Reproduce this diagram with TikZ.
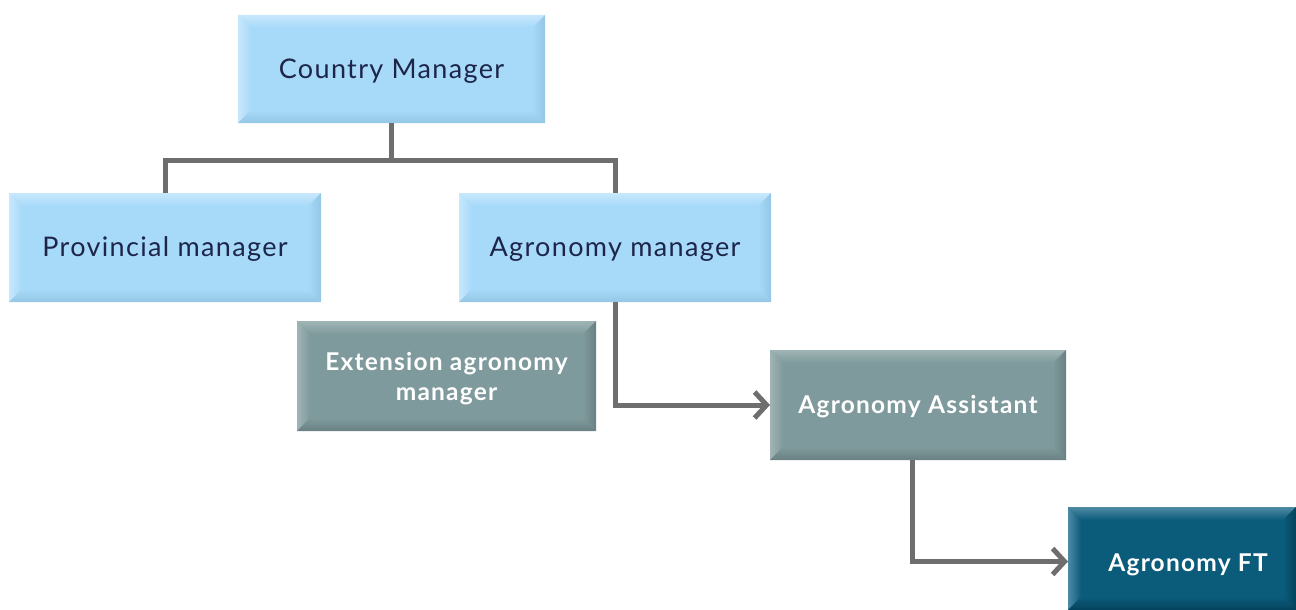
\documentclass[tikz,border=0pt]{standalone}
\usepackage{fontspec}
\setmainfont{Lato}
\newfontfamily\lato{Lato}[LetterSpace=5]
\usetikzlibrary{arrows.meta,calc}
\definecolor{blB}{HTML}{A7D9F9}
\definecolor{blL}{HTML}{C8E8FC}
\definecolor{blD}{HTML}{94C6E6}
\definecolor{grB}{HTML}{7F9A9C}
\definecolor{grL}{HTML}{A0B4B5}
\definecolor{grD}{HTML}{6A8082}
\definecolor{tlB}{HTML}{0B5B7B}
\definecolor{tlL}{HTML}{4D8AA4}
\definecolor{tlD}{HTML}{04425C}
\definecolor{txtdark}{HTML}{1D2549}
\definecolor{lncol}{HTML}{6E6E6E}
\tikzset{
  darktext/.style={text=txtdark,font=\lato\fontsize{27}{32}\selectfont,align=center},
  lighttext/.style={text=white,font=\lato\bfseries\fontsize{24.5}{30}\selectfont,align=center},
  conn/.style={draw=lncol,line width=5pt},
  arr/.style={-{Straight Barb[length=12pt,width=26pt]}},
}
\newcommand\bev{13}
\newcommand\bbox[9]{%
  \node[inner sep=0pt,outer sep=0pt,draw=none,fill=#6B,
        minimum width={(#4-#2)*1pt},minimum height={(#5-#3)*1pt}]
        (#1) at ({(#2+#4)/2},{(#3+#5)/2}) {};
  \shade[top color=#6L,bottom color=#6B] (#1.north west) -- (#1.north east) -- ++(-\bev,\bev) -- ($(#1.north west)+(\bev,\bev)$) -- cycle;
  \shade[left color=#6L,right color=#6B] (#1.north west) -- ++(\bev,\bev) -- ($(#1.south west)+(\bev,-\bev)$) -- (#1.south west) -- cycle;
  \shade[left color=#6B,right color=#6D] (#1.north east) -- ++(-\bev,\bev) -- ($(#1.south east)+(-\bev,-\bev)$) -- (#1.south east) -- cycle;
  \shade[top color=#6B,bottom color=#6D] (#1.south west) -- ++(\bev,-\bev) -- ($(#1.south east)+(-\bev,-\bev)$) -- (#1.south east) -- cycle;
  \node[#7] (#1-t) at ($(#1)+(#9)$) {#8};
}
\begin{document}
\begin{tikzpicture}[x=1pt,y=-1pt]
\useasboundingbox (0,0) rectangle (1296,610);
\bbox{cm}{238}{15}{545}{123}{bl}{darktext}{Country Manager}{0,2}
\bbox{pm}{9}{193}{321}{302}{bl}{darktext}{Provincial manager}{0,1.5}
\bbox{am}{459}{193}{771}{302}{bl}{darktext}{Agronomy manager}{0,1.5}
\bbox{ext}{297}{321}{596}{431}{gr}{lighttext}{Extension agronomy\\manager}{0,3}
\bbox{aa}{770}{350}{1066}{460}{gr}{lighttext}{Agronomy Assistant}{0,2}
\bbox{ft}{1068}{507}{1296}{610}{tl}{lighttext}{Agronomy FT}{6,6}
\coordinate (bus) at (cm.south |- 0,160);
\draw[conn] (cm.south) -- (bus);
\draw[conn] (bus) -| (pm.north);
\draw[conn] (bus) -| (am.north);
\draw[conn,arr] (am.south) |- (aa.west);
\draw[conn,arr] ($(aa.south)+(-6,0)$) |- ($(ft.west)+(0,3)$);
\end{tikzpicture}
\end{document}
